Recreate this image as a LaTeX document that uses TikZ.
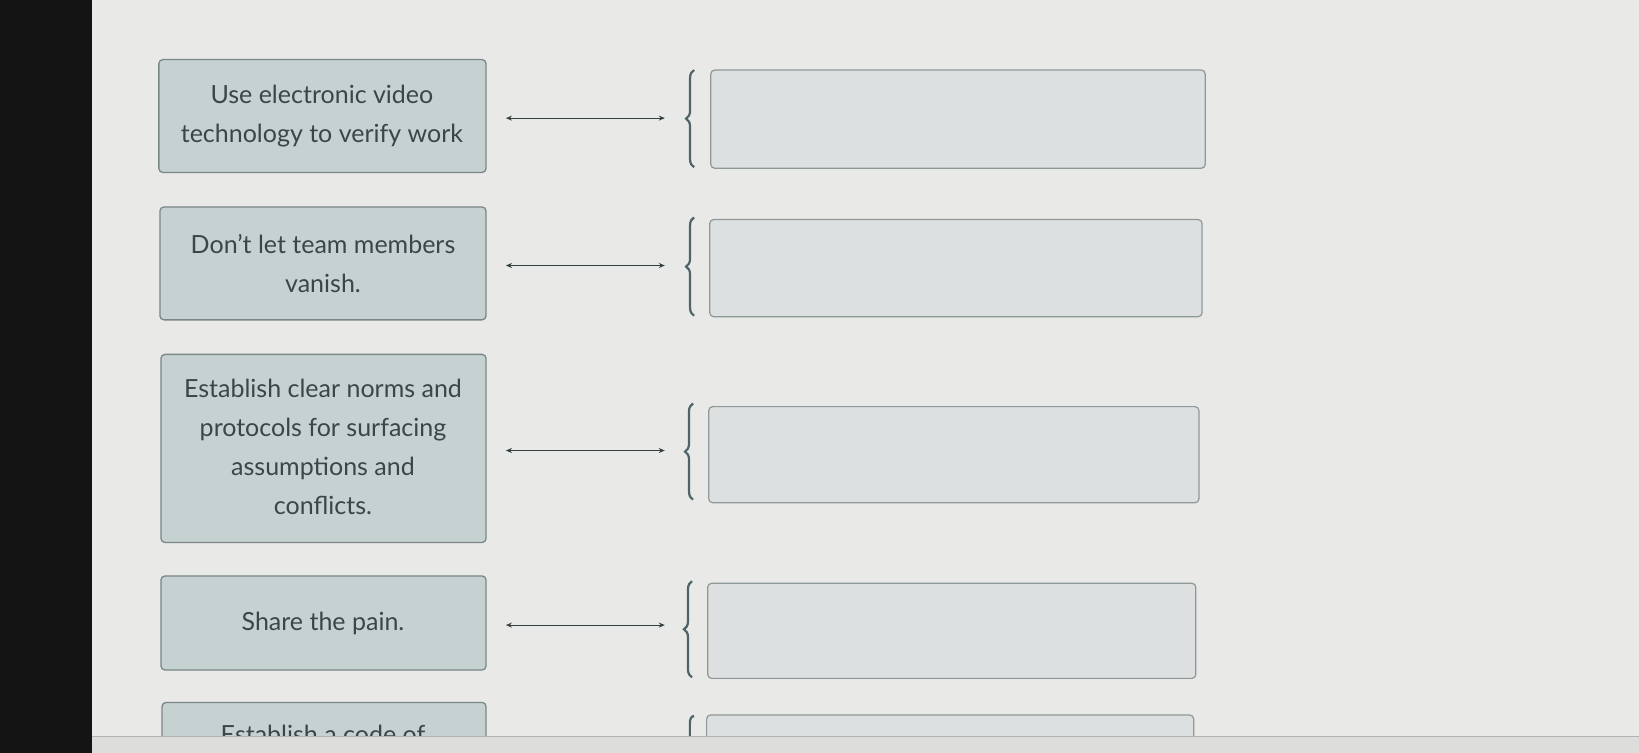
\documentclass[tikz,border=0pt]{standalone}
\usepackage{fontspec}
\setmainfont{Lato}
\usetikzlibrary{arrows.meta,decorations.pathreplacing}
\definecolor{pagebg}{HTML}{E9E9E7}
\definecolor{boxfill}{HTML}{C6D1D2}
\definecolor{boxline}{HTML}{7A8787}
\definecolor{rfill}{HTML}{DDE0E0}
\definecolor{rline}{HTML}{8E9898}
\definecolor{txt}{HTML}{3A4648}
\definecolor{brace}{HTML}{4E6468}
\tikzset{
  lbox/.style={draw=boxline,fill=boxfill,line width=1.3pt,rounded corners=4pt},
  rbox/.style={draw=rline,fill=rfill,line width=1.2pt,rounded corners=4pt},
  ltext/.style={text=txt,font=\fontsize{25}{39}\selectfont,align=center},
  conn/.style={draw=txt!90!black,line width=1.1pt,{Stealth[length=6pt,width=5pt]}-{Stealth[length=6pt,width=5pt]}},
  brc/.style={draw=brace,line width=2.2pt,decorate,decoration={brace,amplitude=8pt,mirror}}
}
\begin{document}
\begin{tikzpicture}[x=1.0453pt,y=-1.0453pt]
\useasboundingbox (0,0) rectangle (1568,720);
\fill[pagebg] (0,0) rectangle (1568,720);
\fill[black!92] (0,0) rectangle (88,720);
% left boxes
\draw[lbox] (152,57) rectangle (465,165);
\draw[lbox] (153,198) rectangle (465,306);
\draw[lbox] (154,339) rectangle (465,519);
\draw[lbox] (154,551) rectangle (465,641);
\draw[lbox] (155,672) rectangle (465,740);
\node[ltext] (t1) at (308,111) {Use electronic video\\technology to verify work};
\node[ltext] (t2) at (309,252) {Don’t let team members\\vanish.};
\node[ltext] (t3) at (309,428) {Establish clear norms and\\protocols for surfacing\\assumptions and\\conflicts.};
\node[ltext] (t4) at (309,596) {Share the pain.};
\node[ltext,anchor=north] (t5) at (309,690) {Establish a code of};
% right boxes
\draw[rbox] (680,67) rectangle (1153,161);
\draw[rbox] (679,210) rectangle (1150,303);
\draw[rbox] (678,389) rectangle (1147,481);
\draw[rbox] (677,558) rectangle (1144,649);
\draw[rbox] (676,684) rectangle (1142,740);
% connectors
\coordinate (a1) at (484,113); \coordinate (b1) at (636,113);
\coordinate (a2) at (484,254); \coordinate (b2) at (636,254);
\coordinate (a3) at (484,431); \coordinate (b3) at (636,431);
\coordinate (a4) at (484,598); \coordinate (b4) at (636,598);
\draw[conn] (a1) -- (b1);
\draw[conn] (a2) -- (b2);
\draw[conn] (a3) -- (b3);
\draw[conn] (a4) -- (b4);
% braces
\draw[brc] (664,67) -- (664,160);
\draw[brc] (664,208) -- (664,302);
\draw[brc] (663,386) -- (663,478);
\draw[brc] (662,556) -- (662,648);
\draw[draw=brace,line width=2.2pt] (660,705) -- (660,692) to[out=90,in=180] (664,685);
% bottom strip
\fill[pagebg!95!black] (88,705) rectangle (1568,720);
\draw[black!30,line width=1pt] (88,705) -- (1568,705);
\end{tikzpicture}
\end{document}
